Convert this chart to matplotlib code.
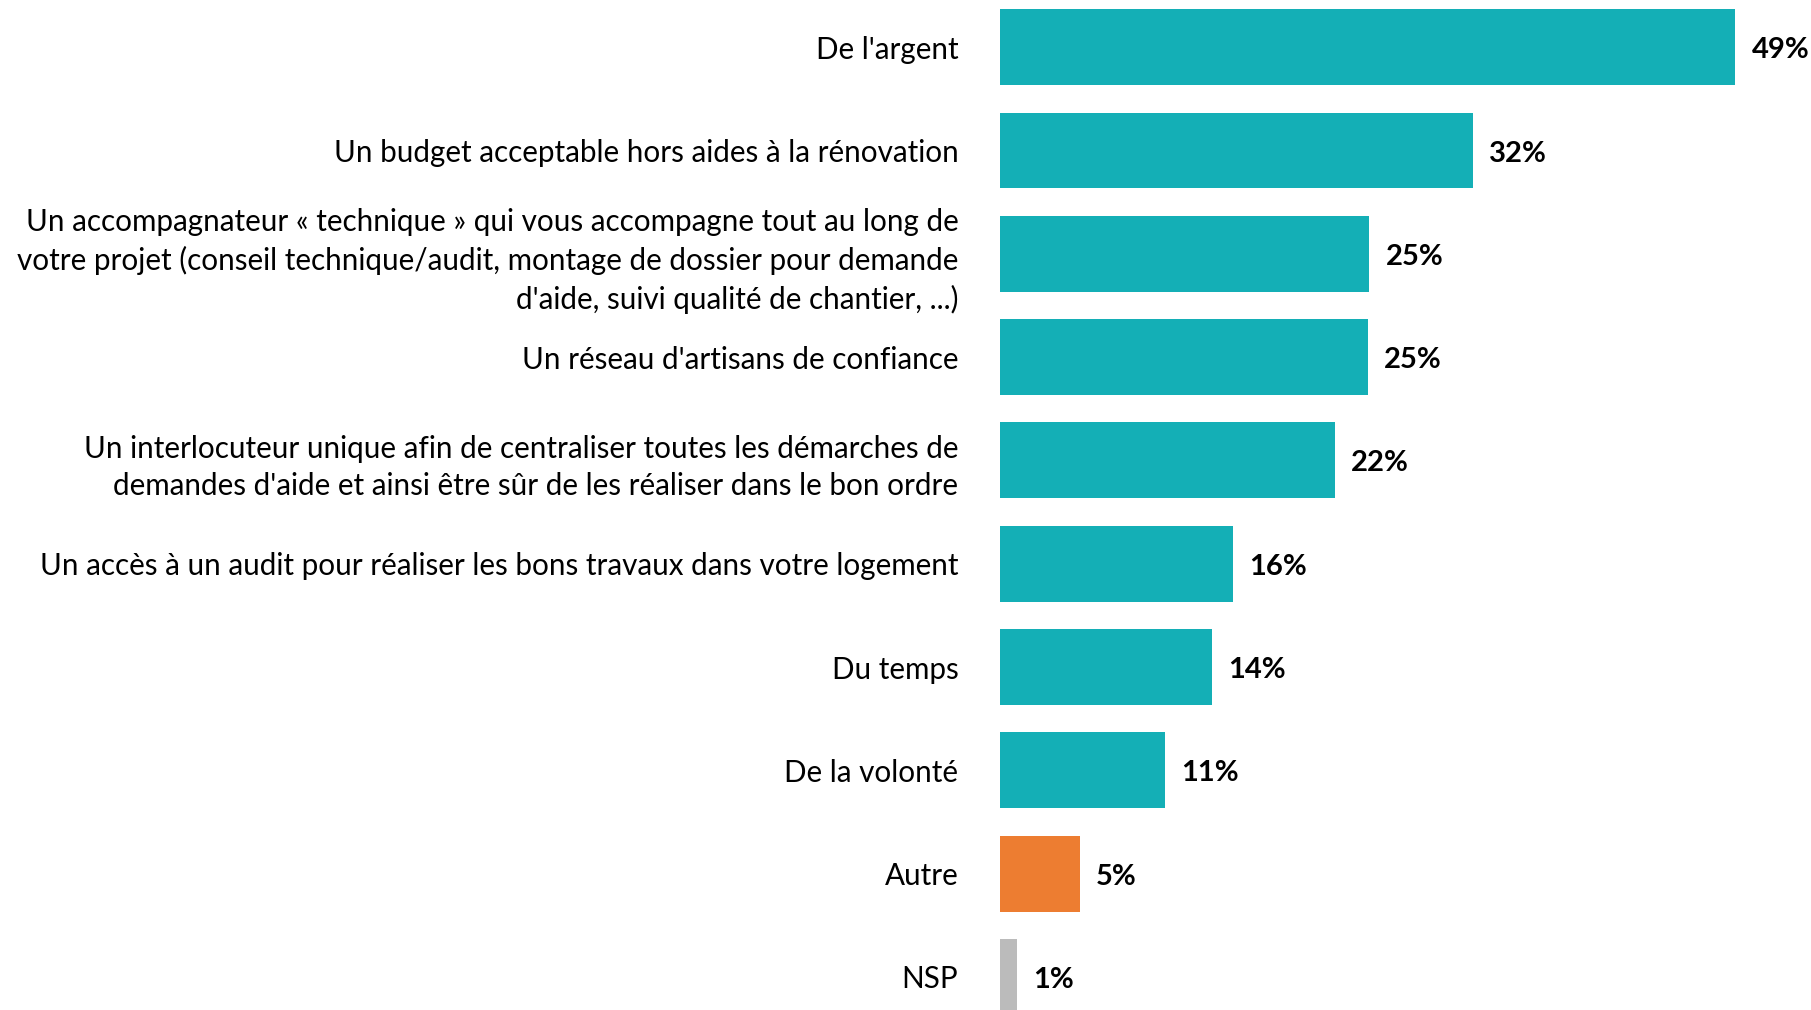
import matplotlib
matplotlib.use('Agg')
import matplotlib.pyplot as plt

# answers, top to bottom
categories = [
    "De l'argent",
    "Un budget acceptable hors aides à la rénovation",
    "Un accompagnateur « technique » qui vous accompagne tout au long de\n"
    "votre projet (conseil technique/audit, montage de dossier pour demande\n"
    "d'aide, suivi qualité de chantier, ...)",
    "Un réseau d'artisans de confiance",
    "Un interlocuteur unique afin de centraliser toutes les démarches de\n"
    "demandes d'aide et ainsi être sûr de les réaliser dans le bon ordre",
    "Un accès à un audit pour réaliser les bons travaux dans votre logement",
    "Du temps",
    "De la volonté",
    "Autre",
    "NSP",
]
values = [49.0, 31.5, 24.6, 24.5, 22.3, 15.5, 14.1, 11.0, 5.3, 1.1]
value_labels = ["49%", "32%", "25%", "25%", "22%", "16%", "14%", "11%", "5%", "1%"]

TEAL = '#14AFB6'
ORANGE = '#ED7D31'
GREY = '#BBBBBB'
colors = [TEAL] * 8 + [ORANGE, GREY]

plt.rcParams['font.family'] = ['Lato', 'DejaVu Sans']

fig = plt.figure(figsize=(18.11, 10.10), dpi=100)
ax = fig.add_axes([1000 / 1811, 0, 811 / 1811, 1])

ypos = list(range(len(categories)))
ax.barh(ypos, values, height=0.735, color=colors)

for y, v, lab in zip(ypos, values, value_labels):
    ax.text(v + 1.1, y + 0.03, lab, va='center', ha='left', fontsize=21,
            fontweight='bold', color='black')

ax.set_xlim(0, 811 / 15)
ax.set_ylim((1010 - 47.2) / 103.3, -47.2 / 103.3)
ax.set_yticks(ypos)
ax.set_yticklabels(categories, fontsize=21.3, color='black', linespacing=1.4)
ax.tick_params(axis='y', length=0, pad=30)
ax.set_xticks([])
for s in ax.spines.values():
    s.set_visible(False)

fig.savefig('out.png', dpi=100)
